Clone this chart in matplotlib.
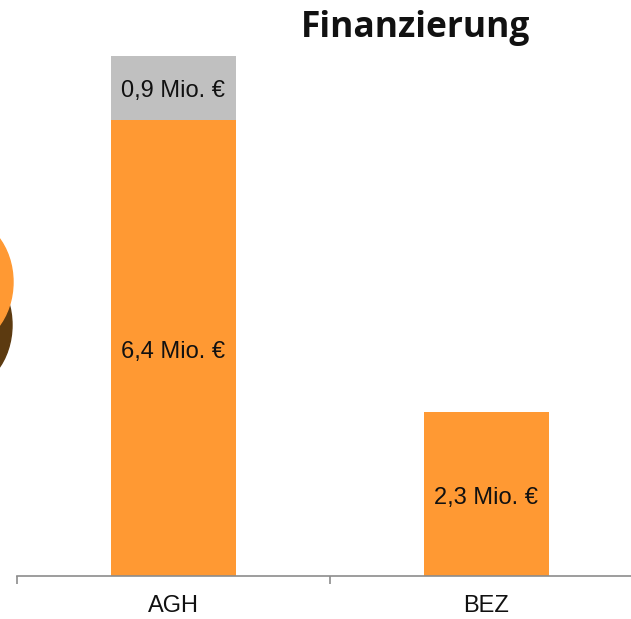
import matplotlib.pyplot as plt
from matplotlib.patches import Ellipse

# data
categories = ["AGH", "BEZ"]
base_values = [6.4, 2.3]
extra_values = [0.9, 0.0]
base_labels = ["6,4 Mio. €", "2,3 Mio. €"]
extra_labels = ["0,9 Mio. €", ""]

orange = "#FF9933"
grey = "#C0C0C0"

fig = plt.figure(figsize=(6.31, 6.19), dpi=100)
W, H = 631, 619

# leftover piece of the neighbouring 3D pie chart at the left edge
bg = fig.add_axes([0, 0, 1, 1])
bg.set_xlim(0, W)
bg.set_ylim(H, 0)
bg.axis("off")
bg.add_patch(Ellipse((-40, 325), 104, 130, color="#5C3A10"))
bg.add_patch(Ellipse((-40, 282), 106, 130, color=orange))

# main bar chart (axes runs past the right edge like in the original)
x0, x1 = 17, 643
y0 = 576
ax = fig.add_axes([x0 / W, (H - y0) / H, (x1 - x0) / W, 570 / H])
ax.set_xlim(-0.5, 1.5)
ax.set_ylim(0, 8)

pos = range(len(categories))
ax.bar(pos, base_values, width=0.4, color=orange, zorder=2)
ax.bar(pos, extra_values, width=0.4, bottom=base_values, color=grey, zorder=2)

font = dict(family="Liberation Sans", fontsize=17, color="#111111")
dy = 0.05
for i in pos:
    ax.text(i, base_values[i] / 2 - dy, base_labels[i], ha="center", va="center", **font)
    if extra_values[i] > 0:
        ax.text(i, base_values[i] + extra_values[i] / 2 - dy, extra_labels[i],
                ha="center", va="center", **font)

for s in ["top", "right", "left"]:
    ax.spines[s].set_visible(False)
ax.spines["bottom"].set_color("#8C8C8C")
ax.spines["bottom"].set_linewidth(1.2)
ax.set_yticks([])
ax.set_xticks([-0.5, 0.5, 1.5], minor=False)
ax.set_xticklabels([])
ax.tick_params(axis="x", length=6, width=1.2, color="#8C8C8C", direction="out")
for i in pos:
    ax.text(i, -0.42, categories[i], ha="center", va="center", **font)

fig.text(416 / W, 1 - 28 / H, "Finanzierung", ha="center", va="center",
         fontsize=25.5, fontweight="bold", family="Open Sans", color="#111111")

fig.savefig("out.png", dpi=100)
